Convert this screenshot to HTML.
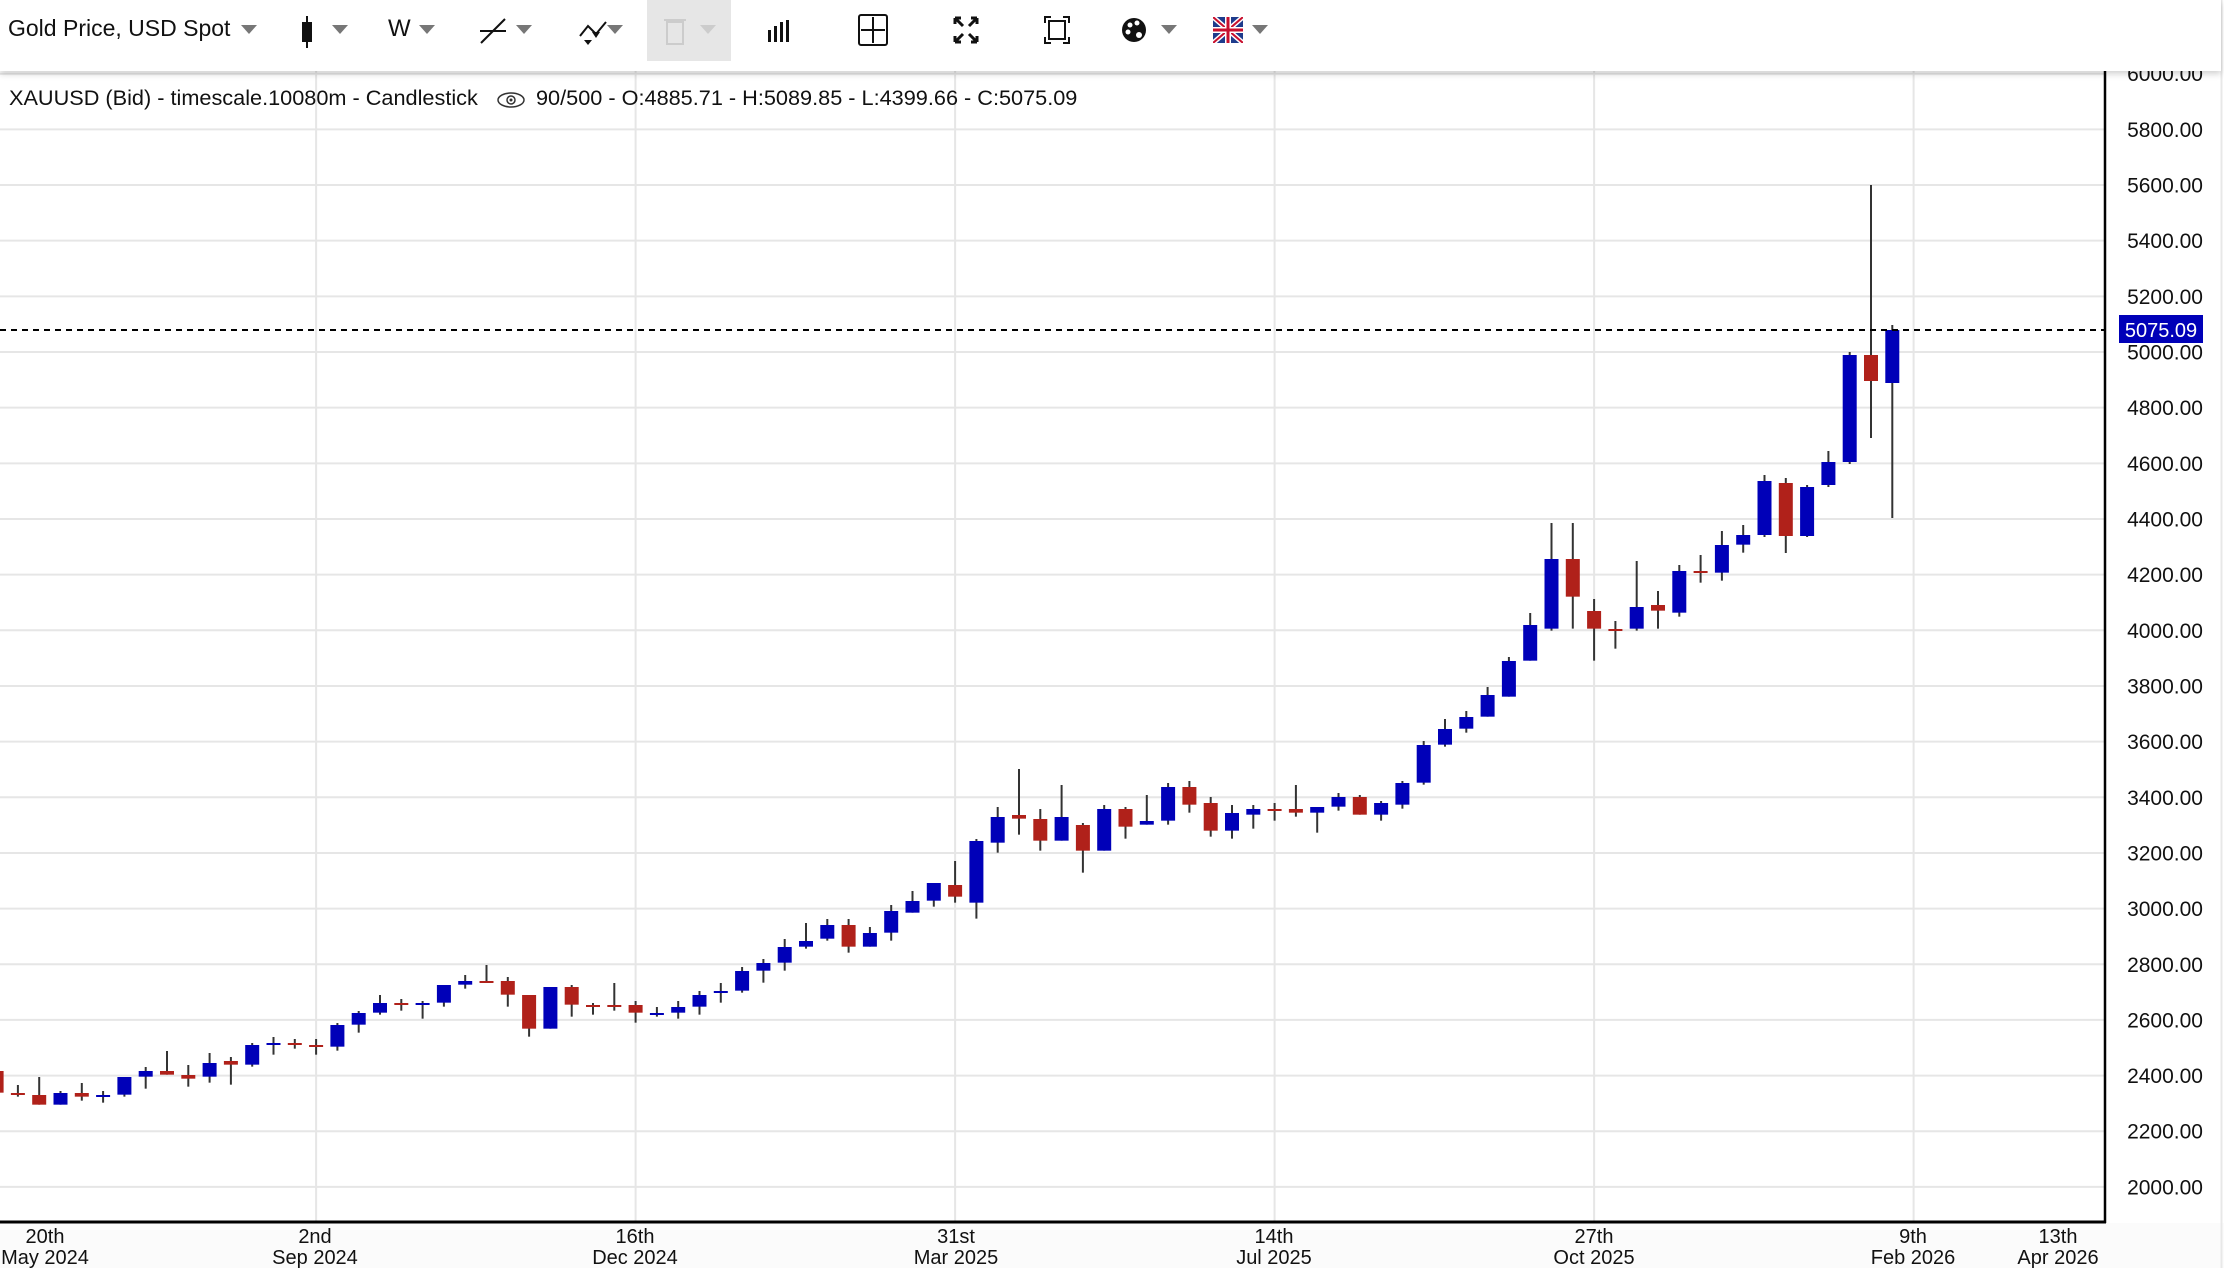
<!DOCTYPE html>
<html><head><meta charset="utf-8">
<style>
html,body{margin:0;padding:0;background:#fff;}
body{width:2224px;height:1268px;position:relative;overflow:hidden;font-family:"Liberation Sans",sans-serif;}
#hdr{position:absolute;left:0;top:0;width:2221px;height:71px;background:#fff;box-shadow:0 3px 6px rgba(0,0,0,0.18);z-index:5;}
.t{position:absolute;white-space:nowrap;color:#111;}
.car{position:absolute;width:0;height:0;border-left:8px solid transparent;border-right:8px solid transparent;border-top:9px solid #777;top:25px;}
</style></head><body>
<svg id="c" width="2224" height="1268" style="position:absolute;left:0;top:0" xmlns="http://www.w3.org/2000/svg"></svg>
<div id="hdr">
 <div class="t" style="left:8px;top:15px;font-size:23px;">Gold Price, USD Spot</div>
 <div class="car" style="left:241px"></div>
 <svg style="position:absolute;left:295px;top:14px" width="24" height="36"><line x1="12" y1="2" x2="12" y2="34" stroke="#111" stroke-width="2"/><rect x="7" y="8" width="10" height="20" fill="#111"/></svg>
 <div class="car" style="left:332px"></div>
 <div class="t" style="left:388px;top:15px;font-size:24px;">W</div>
 <div class="car" style="left:419px"></div>
 <svg style="position:absolute;left:478px;top:16px" width="30" height="30"><line x1="3" y1="27" x2="27" y2="3" stroke="#111" stroke-width="2"/><line x1="2" y1="15" x2="28" y2="15" stroke="#111" stroke-width="2"/></svg>
 <div class="car" style="left:516px"></div>
 <svg style="position:absolute;left:578px;top:16px" width="30" height="30"><polyline points="2,20 10,10 18,18 28,6" fill="none" stroke="#111" stroke-width="2"/><path d="M6 24 L14 24 L10 29Z M14 16 L22 16 L18 22Z" fill="#111"/></svg>
 <div class="car" style="left:607px"></div>
 <div style="position:absolute;left:647px;top:0;width:84px;height:61px;background:#e6e6e6"></div>
 <svg style="position:absolute;left:661px;top:14px" width="28" height="32"><rect x="6" y="8" width="16" height="22" fill="none" stroke="#ccc" stroke-width="2"/><line x1="3" y1="6" x2="25" y2="6" stroke="#ccc" stroke-width="2"/></svg>
 <div class="car" style="left:700px;border-top-color:#ccc"></div>
 <svg style="position:absolute;left:766px;top:18px" width="26" height="26"><rect x="2" y="12" width="3" height="12" fill="#111"/><rect x="8" y="8" width="3" height="16" fill="#111"/><rect x="14" y="4" width="3" height="20" fill="#111"/><rect x="20" y="2" width="3" height="22" fill="#111"/></svg>
 <svg style="position:absolute;left:857px;top:13px" width="32" height="34"><rect x="2" y="2" width="28" height="30" rx="2" fill="none" stroke="#111" stroke-width="2"/><line x1="16" y1="4" x2="16" y2="30" stroke="#111" stroke-width="2"/><line x1="4" y1="17" x2="28" y2="17" stroke="#111" stroke-width="2"/></svg>
 <svg style="position:absolute;left:952px;top:15px" width="28" height="30"><path d="M3 3L11 11M3 3H9M3 3V9M25 3L17 11M25 3H19M25 3V9M3 27L11 19M3 27H9M3 27V21M25 27L17 19M25 27H19M25 27V21" fill="none" stroke="#111" stroke-width="3"/></svg>
 <svg style="position:absolute;left:1043px;top:15px" width="28" height="30"><rect x="6" y="6" width="16" height="18" fill="none" stroke="#111" stroke-width="2"/><path d="M2 8V2H8M20 2H26V8M26 22V28H20M8 28H2V22" fill="none" stroke="#111" stroke-width="2"/></svg>
 <svg style="position:absolute;left:1120px;top:15px" width="28" height="30"><circle cx="14" cy="15" r="12" fill="#111"/><circle cx="10" cy="10" r="2.5" fill="#fff"/><circle cx="17" cy="8" r="2.5" fill="#fff"/><circle cx="8" cy="17" r="2.5" fill="#fff"/><circle cx="19" cy="20" r="3" fill="#fff"/></svg>
 <div class="car" style="left:1161px"></div>
 <svg style="position:absolute;left:1213px;top:17px" width="30" height="26"><rect width="30" height="26" fill="#1e3b8c"/><path d="M0 0L30 26M30 0L0 26" stroke="#fff" stroke-width="5"/><path d="M0 0L30 26M30 0L0 26" stroke="#c8102e" stroke-width="2"/><rect x="12" width="6" height="26" fill="#fff"/><rect y="10" width="30" height="6" fill="#fff"/><rect x="13.5" width="3" height="26" fill="#c8102e"/><rect y="11.5" width="30" height="3" fill="#c8102e"/></svg>
 <div class="car" style="left:1252px"></div>
</div>
<div class="t" style="left:9px;top:85px;font-size:21.7px;z-index:3;">XAUUSD (Bid) - timescale.10080m - Candlestick</div>
<svg style="position:absolute;left:496px;top:89px;z-index:3" width="30" height="22"><ellipse cx="15" cy="11" rx="13" ry="7" fill="none" stroke="#333" stroke-width="1.5"/><circle cx="15" cy="11" r="4" fill="none" stroke="#333" stroke-width="1.5"/><circle cx="15" cy="11" r="1.5" fill="#333"/></svg>
<div class="t" style="left:536px;top:85px;font-size:21.7px;z-index:3;">90/500 - O:4885.71 - H:5089.85 - L:4399.66 - C:5075.09</div>
<script>
var S=document.getElementById('c'),h='';
function Y(p){return 352+(5000-p)*0.2783;}
function X(i){return 17.9+21.3*i;}
h+='<rect x="0" y="0" width="2224" height="1268" fill="#fff"/>';
h+='<rect x="0" y="1223" width="2224" height="45" fill="#fbfbfb"/>';
for(var p=1800;p<=6000;p+=200){var y=Y(p);if(y<1221)h+='<line x1="0" x2="2105" y1="'+y+'" y2="'+y+'" stroke="#e6e6e6" stroke-width="2"/>';}
[-1,14,29,44,59,74,89].forEach(function(i){h+='<line x1="'+X(i)+'" x2="'+X(i)+'" y1="60" y2="1221" stroke="#e6e6e6" stroke-width="2"/>';});
var G=[[930,[
[-1,'r',415,500,423,488],[0,'r',465,500,489,494],[1,'r',441,524,495,524],[2,'b',483,524,489,524],[3,'r',459,512,489,500],[4,'b',483,518,495,500],[5,'b',441,500,441,494],[6,'b',411,476,423,440],[7,'r',363,434,423,434],[8,'r',405,470,435,446],[9,'b',369,458,399,440],[10,'r',381,464,393,404],[11,'b',339,410,345,404],[12,'b',321,374,339,344],[13,'r',327,356,339,344],[14,'r',327,374,345,350],[15,'b',279,362,285,350],[16,'b',243,308,249,284],[17,'b',195,254,219,248],[18,'r',207,242,219,224],[19,'b',213,266,219,224],[20,'b',165,230,165,218],[21,'b',135,176,153,164],[22,'r',105,158,153,158],[23,'r',141,230,153,194],[24,'r',195,320,195,296]]],
[760,[
[25,'b',681,806,681,806],[26,'r',675,770,681,734],[27,'r',729,764,735,740],[28,'r',669,752,735,740],[29,'r',723,788,735,758],[30,'b',741,770,759,764],[31,'b',723,776,741,758],[32,'b',693,764,705,740],[33,'b',669,728,693,698],[34,'b',621,698,633,692],[35,'b',597,668,609,632],[36,'b',537,632,561,608],[37,'b',489,566,543,560],[38,'b',477,542,495,536],[39,'r',477,578,495,560],[40,'b',501,560,519,560],[41,'b',435,542,453,518],[42,'b',393,458,423,458],[43,'b',369,440,369,422],[44,'r',303,428,375,410],[45,'b',237,476,243,428],[46,'b',141,278,171,248],[47,'r',27,224,165,176],[48,'r',147,272,177,242],[49,'b',75,242,171,242],[50,'r',189,338,195,272]]],
[740,[
[51,'b',195,332,207,332],[52,'r',201,296,207,260],[53,'b',165,254,243,254],[54,'b',129,254,141,242],[55,'r',123,218,141,194],[56,'r',171,290,189,272],[57,'b',195,296,219,272],[58,'b',195,266,207,224],[59,'r',189,242,207,212],[60,'r',135,230,207,218],[61,'b',201,278,201,218],[62,'b',159,212,171,200],[63,'r',165,224,171,224],[64,'b',183,242,189,224],[65,'b',123,206,129,194]]],
[480,[
[66,'b',783,914,795,908],[67,'b',717,800,747,794],[68,'b',693,758,711,746],[69,'b',621,710,645,710],[70,'b',531,650,543,650],[71,'b',399,542,435,542],[72,'b',129,452,237,446],[73,'r',129,446,237,350],[74,'r',357,542,393,446],[75,'r',423,506,447,452],[76,'b',243,452,381,446],[77,'r',333,446,375,392],[78,'b',255,410,273,398],[79,'r',225,308,273,278],[80,'b',153,302,195,278],[81,'b',135,218,165,194]]],
[0,[
[82,'b',475,537,481,535],[83,'r',478,553,483,536],[84,'b',485,537,487,536],[85,'b',451,487,462,485],[86,'b',352,464,355,462],[87,'r',185,438,355,381],[88,'b',325,518,330,383]]]];
G.forEach(function(g){var y0=g[0],k=(y0===0)?1:1/3;g[1].forEach(function(c){
 var x=X(c[0]),wt=y0+c[2]*k,wb=y0+c[3]*k,bt=y0+c[4]*k,bb=y0+c[5]*k;
 h+='<line x1="'+x+'" x2="'+x+'" y1="'+wt+'" y2="'+wb+'" stroke="#333" stroke-width="2"/>';
 h+='<rect x="'+(x-7)+'" y="'+bt+'" width="14" height="'+Math.max(2,bb-bt)+'" fill="'+(c[1]=='b'?'#0000b8':'#b0211a')+'"/>';
});});
h+='<line x1="0" x2="2105" y1="330" y2="330" stroke="#000" stroke-width="2" stroke-dasharray="6,5"/>';
h+='<line x1="2105" x2="2105" y1="60" y2="1223" stroke="#000" stroke-width="2.5"/>';
h+='<line x1="0" x2="2106" y1="1222" y2="1222" stroke="#000" stroke-width="3"/>';
h+='<line x1="2221.5" x2="2221.5" y1="0" y2="1268" stroke="#e8e8e8" stroke-width="2"/>';
h+='<clipPath id="cl"><rect x="2106" y="0" width="120" height="1229"/></clipPath><g clip-path="url(#cl)" font-family="Liberation Sans, sans-serif" font-size="21" fill="#111" text-anchor="end">';
for(var p=1800;p<=6000;p+=200){h+='<text x="2203" y="'+(Y(p)+7.5)+'">'+p+'.00</text>';}
h+='</g>';
h+='<rect x="2119" y="315" width="84" height="28" fill="#0000b8"/><text x="2161" y="337" font-family="Liberation Sans, sans-serif" font-size="20" fill="#fff" text-anchor="middle">5075.09</text>';
var L=[[45,'20th','May 2024'],[315,'2nd','Sep 2024'],[635,'16th','Dec 2024'],[956,'31st','Mar 2025'],[1274,'14th','Jul 2025'],[1594,'27th','Oct 2025'],[1913,'9th','Feb 2026'],[2058,'13th','Apr 2026']];
L.forEach(function(l){h+='<text x="'+l[0]+'" y="1243" font-family="Liberation Sans, sans-serif" font-size="20" fill="#111" text-anchor="middle">'+l[1]+'</text><text x="'+l[0]+'" y="1264" font-family="Liberation Sans, sans-serif" font-size="20" fill="#111" text-anchor="middle">'+l[2]+'</text>';});
S.innerHTML=h;
</script>
</body></html>
